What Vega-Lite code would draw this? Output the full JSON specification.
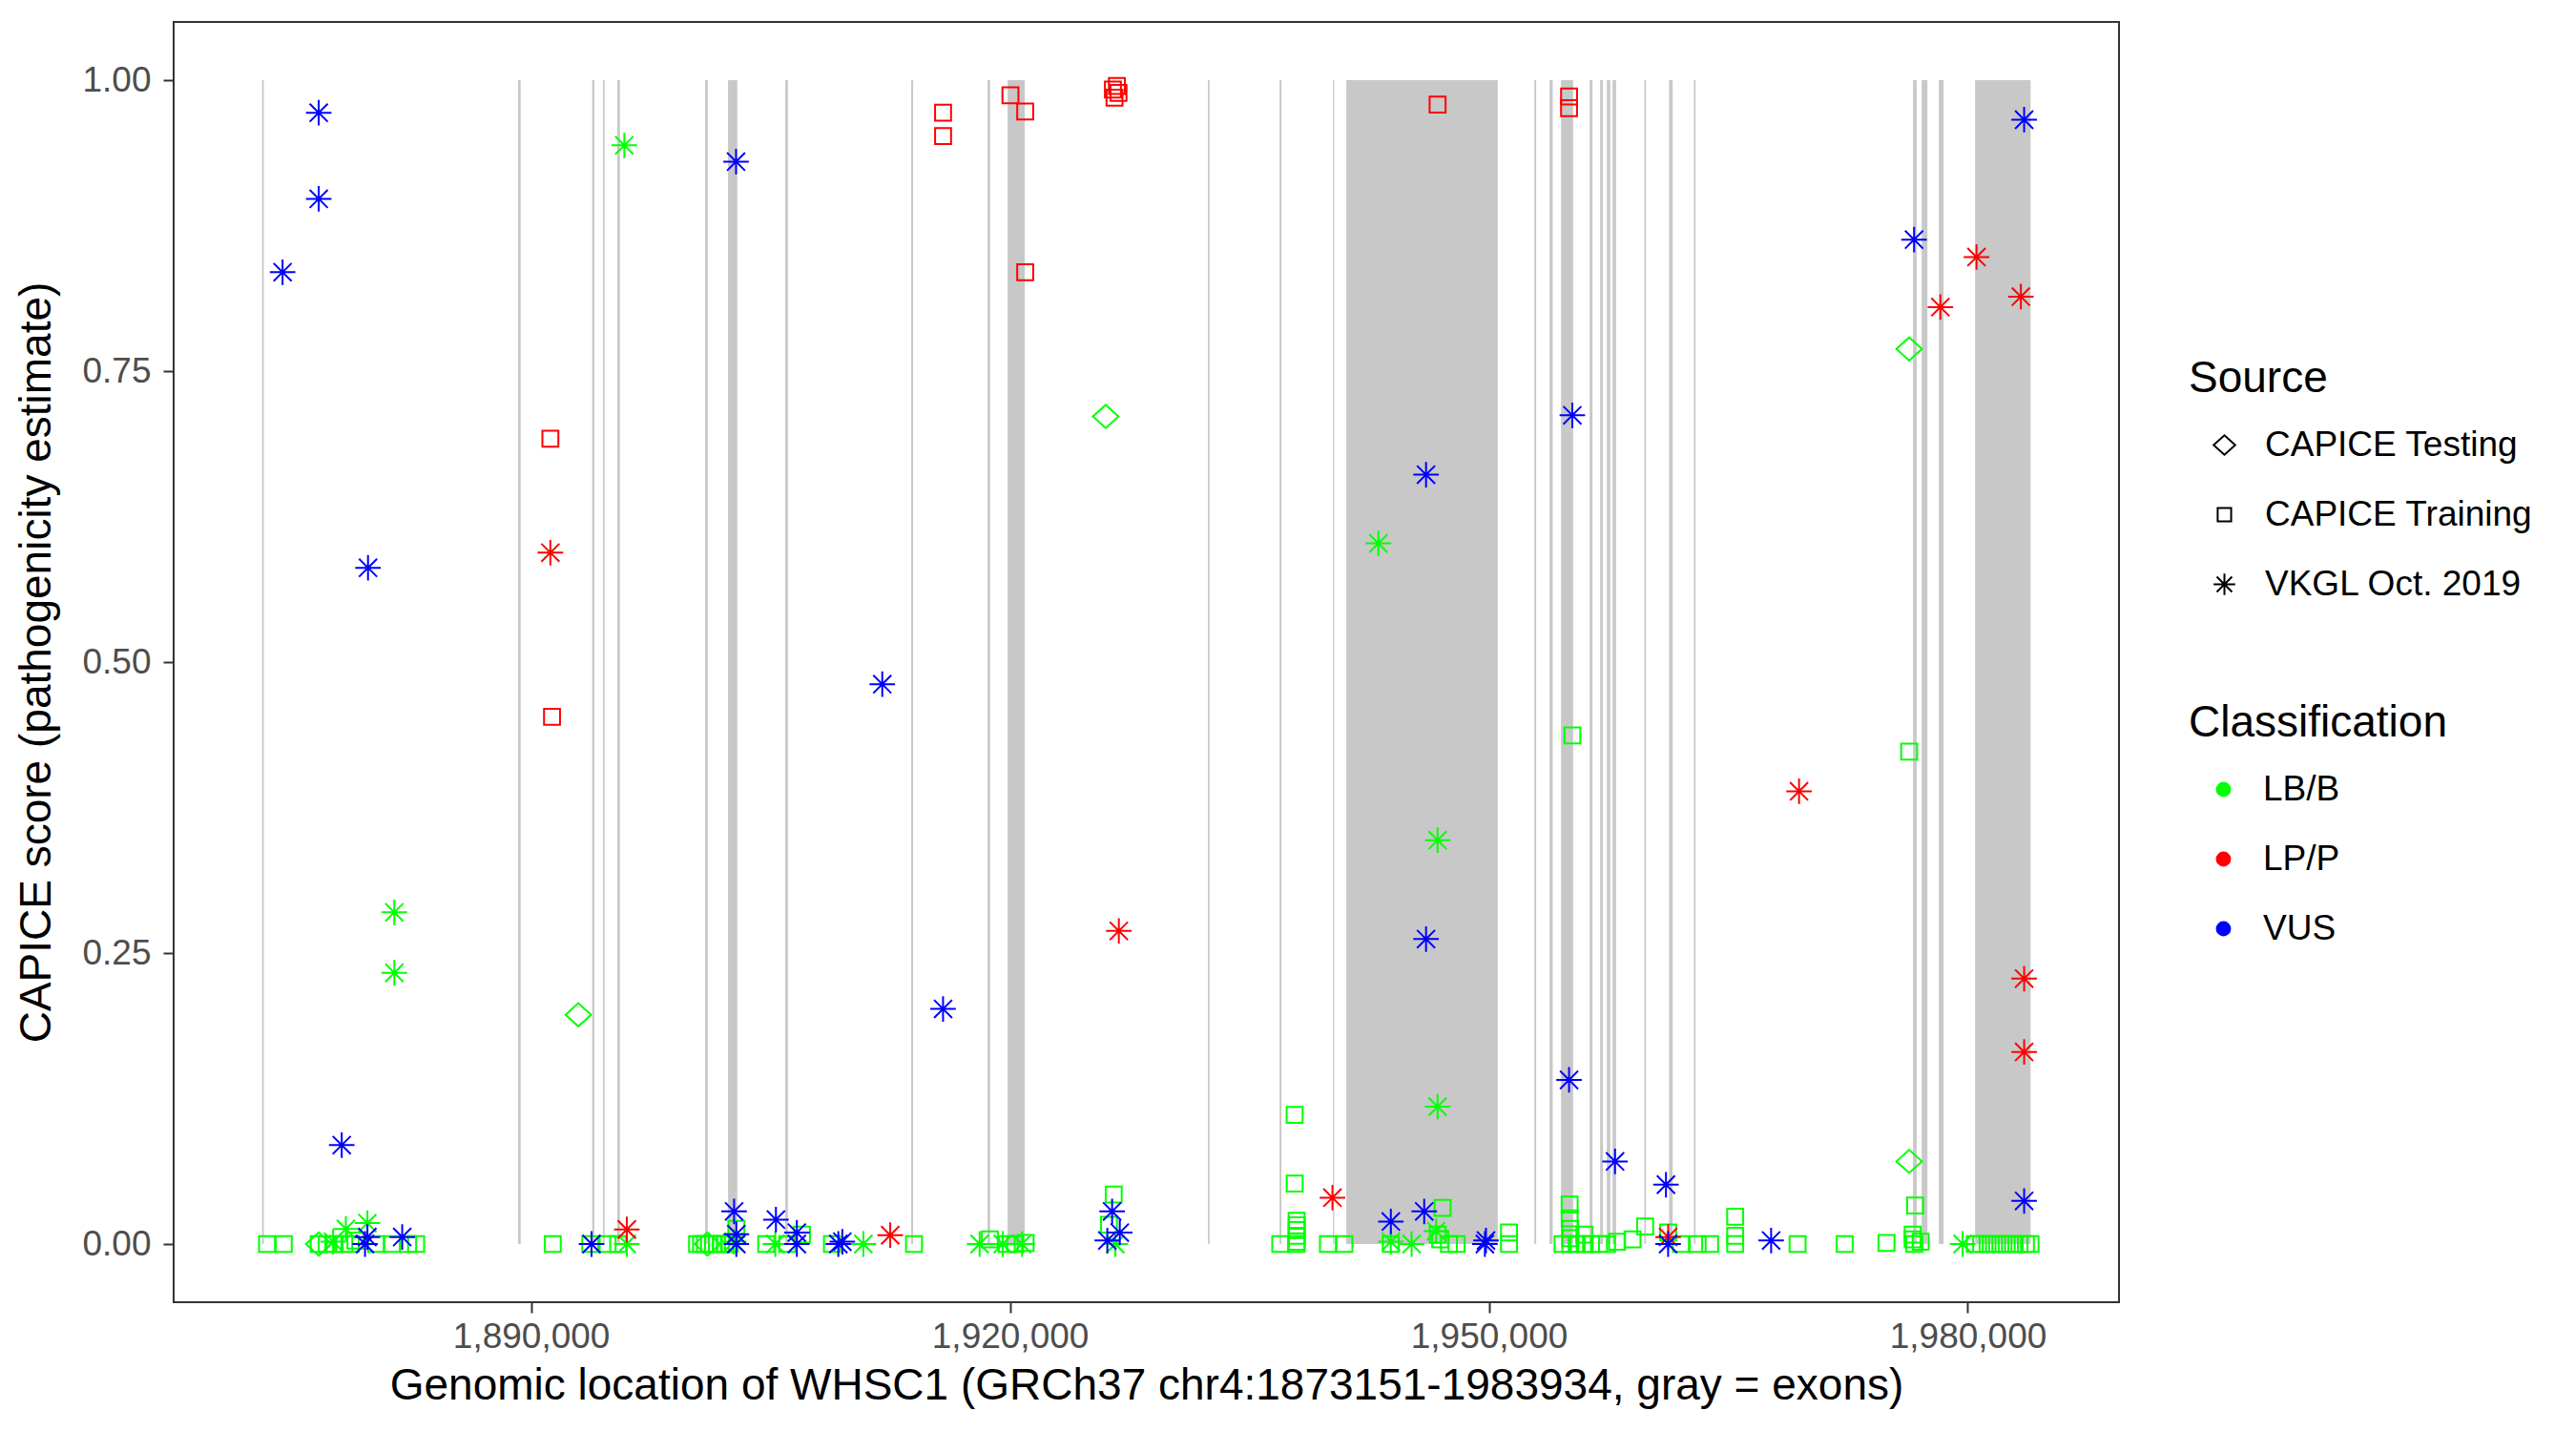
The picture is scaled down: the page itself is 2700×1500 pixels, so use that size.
{
"$schema": "https://vega.github.io/schema/vega-lite/v6.json",
"autosize": {"type": "none"},
"padding": {"left": 182, "top": 23, "right": 479, "bottom": 135},
"width": 2039,
"height": 1342,
"background": "white",
"config": {
  "font": "Liberation Sans",
  "view": {"stroke": "#333333", "strokeWidth": 2},
  "axis": {"grid": false, "domain": false, "tickColor": "#333333", "tickWidth": 2, "tickSize": 11, "labelColor": "#4D4D4D", "labelFontSize": 37, "titleFontSize": 46, "titleFontWeight": "normal", "titleColor": "black", "labelFont": "Liberation Sans", "titleFont": "Liberation Sans"},
  "legend": {"titleFontSize": 46, "titleFontWeight": "normal", "titleColor": "black", "labelFontSize": 37, "labelColor": "black", "rowPadding": 35, "titlePadding": 27, "labelFont": "Liberation Sans", "titleFont": "Liberation Sans", "labelLimit": 1000, "titleLimit": 1000}
},
"datasets": {
"exons": [
{"start": 1873151, "end": 1873260},
{"start": 1889189, "end": 1889350},
{"start": 1893833, "end": 1893970},
{"start": 1894509, "end": 1894611},
{"start": 1895406, "end": 1895567},
{"start": 1900905, "end": 1901066},
{"start": 1902340, "end": 1902920},
{"start": 1905926, "end": 1906087},
{"start": 1913815, "end": 1913935},
{"start": 1918597, "end": 1918758},
{"start": 1919852, "end": 1920928},
{"start": 1932404, "end": 1932506},
{"start": 1936887, "end": 1937006},
{"start": 1940234, "end": 1940311},
{"start": 1941071, "end": 1950557},
{"start": 1952847, "end": 1952966},
{"start": 1953803, "end": 1954000},
{"start": 1954520, "end": 1955279},
{"start": 1956313, "end": 1956492},
{"start": 1956970, "end": 1957150},
{"start": 1957389, "end": 1957610},
{"start": 1957747, "end": 1957968},
{"start": 1959737, "end": 1959839},
{"start": 1961291, "end": 1961512},
{"start": 1962845, "end": 1962947},
{"start": 1976575, "end": 1976796},
{"start": 1977113, "end": 1977472},
{"start": 1978188, "end": 1978487},
{"start": 1980459, "end": 1983934}
],
"pts": [
{"p": 1873460, "s": 0, "src": "CAPICE Training", "cls": "LB/B"},
{"p": 1874510, "s": 0, "src": "CAPICE Training", "cls": "LB/B"},
{"p": 1876700, "s": 0, "src": "CAPICE Training", "cls": "LB/B"},
{"p": 1877200, "s": 0, "src": "CAPICE Training", "cls": "LB/B"},
{"p": 1877620, "s": 0, "src": "CAPICE Training", "cls": "LB/B"},
{"p": 1878300, "s": 0, "src": "CAPICE Training", "cls": "LB/B"},
{"p": 1878700, "s": 0, "src": "CAPICE Training", "cls": "LB/B"},
{"p": 1879000, "s": 0.003, "src": "CAPICE Training", "cls": "LB/B"},
{"p": 1880300, "s": 0, "src": "CAPICE Training", "cls": "LB/B"},
{"p": 1881280, "s": 0, "src": "CAPICE Training", "cls": "LB/B"},
{"p": 1882300, "s": 0, "src": "CAPICE Training", "cls": "LB/B"},
{"p": 1882800, "s": 0, "src": "CAPICE Training", "cls": "LB/B"},
{"p": 1891360, "s": 0, "src": "CAPICE Training", "cls": "LB/B"},
{"p": 1893710, "s": 0, "src": "CAPICE Training", "cls": "LB/B"},
{"p": 1894800, "s": 0, "src": "CAPICE Training", "cls": "LB/B"},
{"p": 1895460, "s": 0, "src": "CAPICE Training", "cls": "LB/B"},
{"p": 1900400, "s": 0, "src": "CAPICE Training", "cls": "LB/B"},
{"p": 1900650, "s": 0, "src": "CAPICE Training", "cls": "LB/B"},
{"p": 1900900, "s": 0, "src": "CAPICE Training", "cls": "LB/B"},
{"p": 1901150, "s": 0, "src": "CAPICE Training", "cls": "LB/B"},
{"p": 1901400, "s": 0, "src": "CAPICE Training", "cls": "LB/B"},
{"p": 1901650, "s": 0, "src": "CAPICE Training", "cls": "LB/B"},
{"p": 1901900, "s": 0, "src": "CAPICE Training", "cls": "LB/B"},
{"p": 1902150, "s": 0, "src": "CAPICE Training", "cls": "LB/B"},
{"p": 1902450, "s": 0, "src": "CAPICE Training", "cls": "LB/B"},
{"p": 1902860, "s": 0.013, "src": "CAPICE Training", "cls": "LB/B"},
{"p": 1904730, "s": 0, "src": "CAPICE Training", "cls": "LB/B"},
{"p": 1906050, "s": 0, "src": "CAPICE Training", "cls": "LB/B"},
{"p": 1906970, "s": 0.008, "src": "CAPICE Training", "cls": "LB/B"},
{"p": 1908850, "s": 0, "src": "CAPICE Training", "cls": "LB/B"},
{"p": 1913990, "s": 0, "src": "CAPICE Training", "cls": "LB/B"},
{"p": 1918740, "s": 0.004, "src": "CAPICE Training", "cls": "LB/B"},
{"p": 1919800, "s": 0, "src": "CAPICE Training", "cls": "LB/B"},
{"p": 1920320, "s": 0, "src": "CAPICE Training", "cls": "LB/B"},
{"p": 1920980, "s": 0.001, "src": "CAPICE Training", "cls": "LB/B"},
{"p": 1926500, "s": 0.0425, "src": "CAPICE Training", "cls": "LB/B"},
{"p": 1926200, "s": 0.0166, "src": "CAPICE Training", "cls": "LB/B"},
{"p": 1936930, "s": 0, "src": "CAPICE Training", "cls": "LB/B"},
{"p": 1937835, "s": 0.111, "src": "CAPICE Training", "cls": "LB/B"},
{"p": 1937835, "s": 0.052, "src": "CAPICE Training", "cls": "LB/B"},
{"p": 1937960, "s": 0.02, "src": "CAPICE Training", "cls": "LB/B"},
{"p": 1937960, "s": 0.016, "src": "CAPICE Training", "cls": "LB/B"},
{"p": 1937960, "s": 0.012, "src": "CAPICE Training", "cls": "LB/B"},
{"p": 1937960, "s": 0.007, "src": "CAPICE Training", "cls": "LB/B"},
{"p": 1937960, "s": 0.002, "src": "CAPICE Training", "cls": "LB/B"},
{"p": 1937960, "s": 0, "src": "CAPICE Training", "cls": "LB/B"},
{"p": 1939920, "s": 0, "src": "CAPICE Training", "cls": "LB/B"},
{"p": 1940950, "s": 0, "src": "CAPICE Training", "cls": "LB/B"},
{"p": 1943860, "s": 0, "src": "CAPICE Training", "cls": "LB/B"},
{"p": 1946800, "s": 0.008, "src": "CAPICE Training", "cls": "LB/B"},
{"p": 1946950, "s": 0.004, "src": "CAPICE Training", "cls": "LB/B"},
{"p": 1947100, "s": 0.031, "src": "CAPICE Training", "cls": "LB/B"},
{"p": 1947500, "s": 0, "src": "CAPICE Training", "cls": "LB/B"},
{"p": 1947980, "s": 0, "src": "CAPICE Training", "cls": "LB/B"},
{"p": 1951260, "s": 0.01, "src": "CAPICE Training", "cls": "LB/B"},
{"p": 1951260, "s": 0, "src": "CAPICE Training", "cls": "LB/B"},
{"p": 1955060, "s": 0.034, "src": "CAPICE Training", "cls": "LB/B"},
{"p": 1955060, "s": 0.022, "src": "CAPICE Training", "cls": "LB/B"},
{"p": 1955100, "s": 0.013, "src": "CAPICE Training", "cls": "LB/B"},
{"p": 1955100, "s": 0.005, "src": "CAPICE Training", "cls": "LB/B"},
{"p": 1955100, "s": 0, "src": "CAPICE Training", "cls": "LB/B"},
{"p": 1955229, "s": 0.437, "src": "CAPICE Training", "cls": "LB/B"},
{"p": 1954620, "s": 0, "src": "CAPICE Training", "cls": "LB/B"},
{"p": 1955500, "s": 0, "src": "CAPICE Training", "cls": "LB/B"},
{"p": 1955980, "s": 0.008, "src": "CAPICE Training", "cls": "LB/B"},
{"p": 1956000, "s": 0, "src": "CAPICE Training", "cls": "LB/B"},
{"p": 1956400, "s": 0, "src": "CAPICE Training", "cls": "LB/B"},
{"p": 1956900, "s": 0, "src": "CAPICE Training", "cls": "LB/B"},
{"p": 1957400, "s": 0, "src": "CAPICE Training", "cls": "LB/B"},
{"p": 1958030, "s": 0.002, "src": "CAPICE Training", "cls": "LB/B"},
{"p": 1959000, "s": 0.004, "src": "CAPICE Training", "cls": "LB/B"},
{"p": 1959790, "s": 0.015, "src": "CAPICE Training", "cls": "LB/B"},
{"p": 1961230, "s": 0.01, "src": "CAPICE Training", "cls": "LB/B"},
{"p": 1962030, "s": 0, "src": "CAPICE Training", "cls": "LB/B"},
{"p": 1963080, "s": 0, "src": "CAPICE Training", "cls": "LB/B"},
{"p": 1963860, "s": 0, "src": "CAPICE Training", "cls": "LB/B"},
{"p": 1965430, "s": 0.0234, "src": "CAPICE Training", "cls": "LB/B"},
{"p": 1965430, "s": 0.007, "src": "CAPICE Training", "cls": "LB/B"},
{"p": 1965430, "s": 0, "src": "CAPICE Training", "cls": "LB/B"},
{"p": 1969340, "s": 0, "src": "CAPICE Training", "cls": "LB/B"},
{"p": 1972290, "s": 0, "src": "CAPICE Training", "cls": "LB/B"},
{"p": 1974910, "s": 0.001, "src": "CAPICE Training", "cls": "LB/B"},
{"p": 1976329, "s": 0.423, "src": "CAPICE Training", "cls": "LB/B"},
{"p": 1976700, "s": 0.033, "src": "CAPICE Training", "cls": "LB/B"},
{"p": 1976550, "s": 0.008, "src": "CAPICE Training", "cls": "LB/B"},
{"p": 1976550, "s": 0.004, "src": "CAPICE Training", "cls": "LB/B"},
{"p": 1976650, "s": 0, "src": "CAPICE Training", "cls": "LB/B"},
{"p": 1977050, "s": 0.002, "src": "CAPICE Training", "cls": "LB/B"},
{"p": 1980440, "s": 0, "src": "CAPICE Training", "cls": "LB/B"},
{"p": 1980840, "s": 0, "src": "CAPICE Training", "cls": "LB/B"},
{"p": 1981240, "s": 0, "src": "CAPICE Training", "cls": "LB/B"},
{"p": 1981640, "s": 0, "src": "CAPICE Training", "cls": "LB/B"},
{"p": 1982040, "s": 0, "src": "CAPICE Training", "cls": "LB/B"},
{"p": 1982440, "s": 0, "src": "CAPICE Training", "cls": "LB/B"},
{"p": 1982840, "s": 0, "src": "CAPICE Training", "cls": "LB/B"},
{"p": 1983240, "s": 0, "src": "CAPICE Training", "cls": "LB/B"},
{"p": 1983640, "s": 0, "src": "CAPICE Training", "cls": "LB/B"},
{"p": 1983934, "s": 0, "src": "CAPICE Training", "cls": "LB/B"},
{"p": 1891212, "s": 0.692, "src": "CAPICE Training", "cls": "LP/P"},
{"p": 1891315, "s": 0.453, "src": "CAPICE Training", "cls": "LP/P"},
{"p": 1915810, "s": 0.972, "src": "CAPICE Training", "cls": "LP/P"},
{"p": 1915810, "s": 0.952, "src": "CAPICE Training", "cls": "LP/P"},
{"p": 1920030, "s": 0.987, "src": "CAPICE Training", "cls": "LP/P"},
{"p": 1920956, "s": 0.973, "src": "CAPICE Training", "cls": "LP/P"},
{"p": 1920956, "s": 0.835, "src": "CAPICE Training", "cls": "LP/P"},
{"p": 1926450, "s": 0.992, "src": "CAPICE Training", "cls": "LP/P"},
{"p": 1926700, "s": 0.995, "src": "CAPICE Training", "cls": "LP/P"},
{"p": 1926550, "s": 0.985, "src": "CAPICE Training", "cls": "LP/P"},
{"p": 1926800, "s": 0.989, "src": "CAPICE Training", "cls": "LP/P"},
{"p": 1946789, "s": 0.979, "src": "CAPICE Training", "cls": "LP/P"},
{"p": 1955023, "s": 0.986, "src": "CAPICE Training", "cls": "LP/P"},
{"p": 1955023, "s": 0.976, "src": "CAPICE Training", "cls": "LP/P"},
{"p": 1892962, "s": 0.197, "src": "CAPICE Testing", "cls": "LB/B"},
{"p": 1926000, "s": 0.711, "src": "CAPICE Testing", "cls": "LB/B"},
{"p": 1976329, "s": 0.769, "src": "CAPICE Testing", "cls": "LB/B"},
{"p": 1976329, "s": 0.071, "src": "CAPICE Testing", "cls": "LB/B"},
{"p": 1876700, "s": 0, "src": "CAPICE Testing", "cls": "LB/B"},
{"p": 1901050, "s": 0, "src": "CAPICE Testing", "cls": "LB/B"},
{"p": 1881435, "s": 0.285, "src": "VKGL Oct. 2019", "cls": "LB/B"},
{"p": 1881435, "s": 0.233, "src": "VKGL Oct. 2019", "cls": "LB/B"},
{"p": 1895844, "s": 0.944, "src": "VKGL Oct. 2019", "cls": "LB/B"},
{"p": 1943081, "s": 0.602, "src": "VKGL Oct. 2019", "cls": "LB/B"},
{"p": 1946789, "s": 0.347, "src": "VKGL Oct. 2019", "cls": "LB/B"},
{"p": 1946789, "s": 0.118, "src": "VKGL Oct. 2019", "cls": "LB/B"},
{"p": 1878400, "s": 0.013, "src": "VKGL Oct. 2019", "cls": "LB/B"},
{"p": 1879750, "s": 0.018, "src": "VKGL Oct. 2019", "cls": "LB/B"},
{"p": 1877600, "s": 0.002, "src": "VKGL Oct. 2019", "cls": "LB/B"},
{"p": 1896000, "s": 0, "src": "VKGL Oct. 2019", "cls": "LB/B"},
{"p": 1902700, "s": 0.002, "src": "VKGL Oct. 2019", "cls": "LB/B"},
{"p": 1905300, "s": 0, "src": "VKGL Oct. 2019", "cls": "LB/B"},
{"p": 1910820, "s": 0, "src": "VKGL Oct. 2019", "cls": "LB/B"},
{"p": 1918100, "s": 0, "src": "VKGL Oct. 2019", "cls": "LB/B"},
{"p": 1919550, "s": 0, "src": "VKGL Oct. 2019", "cls": "LB/B"},
{"p": 1920760, "s": 0, "src": "VKGL Oct. 2019", "cls": "LB/B"},
{"p": 1926600, "s": 0, "src": "VKGL Oct. 2019", "cls": "LB/B"},
{"p": 1943860, "s": 0.002, "src": "VKGL Oct. 2019", "cls": "LB/B"},
{"p": 1945160, "s": 0, "src": "VKGL Oct. 2019", "cls": "LB/B"},
{"p": 1946700, "s": 0.011, "src": "VKGL Oct. 2019", "cls": "LB/B"},
{"p": 1979680, "s": 0, "src": "VKGL Oct. 2019", "cls": "LB/B"},
{"p": 1891212, "s": 0.594, "src": "VKGL Oct. 2019", "cls": "LP/P"},
{"p": 1896000, "s": 0.0125, "src": "VKGL Oct. 2019", "cls": "LP/P"},
{"p": 1912500, "s": 0.0076, "src": "VKGL Oct. 2019", "cls": "LP/P"},
{"p": 1926821, "s": 0.269, "src": "VKGL Oct. 2019", "cls": "LP/P"},
{"p": 1940202, "s": 0.0398, "src": "VKGL Oct. 2019", "cls": "LP/P"},
{"p": 1961230, "s": 0.006, "src": "VKGL Oct. 2019", "cls": "LP/P"},
{"p": 1969431, "s": 0.389, "src": "VKGL Oct. 2019", "cls": "LP/P"},
{"p": 1978284, "s": 0.805, "src": "VKGL Oct. 2019", "cls": "LP/P"},
{"p": 1980548, "s": 0.848, "src": "VKGL Oct. 2019", "cls": "LP/P"},
{"p": 1983326, "s": 0.814, "src": "VKGL Oct. 2019", "cls": "LP/P"},
{"p": 1983531, "s": 0.228, "src": "VKGL Oct. 2019", "cls": "LP/P"},
{"p": 1983531, "s": 0.165, "src": "VKGL Oct. 2019", "cls": "LP/P"},
{"p": 1874436, "s": 0.835, "src": "VKGL Oct. 2019", "cls": "VUS"},
{"p": 1876700, "s": 0.972, "src": "VKGL Oct. 2019", "cls": "VUS"},
{"p": 1876700, "s": 0.898, "src": "VKGL Oct. 2019", "cls": "VUS"},
{"p": 1879788, "s": 0.581, "src": "VKGL Oct. 2019", "cls": "VUS"},
{"p": 1878141, "s": 0.085, "src": "VKGL Oct. 2019", "cls": "VUS"},
{"p": 1879750, "s": 0.006, "src": "VKGL Oct. 2019", "cls": "VUS"},
{"p": 1879600, "s": 0, "src": "VKGL Oct. 2019", "cls": "VUS"},
{"p": 1881930, "s": 0.006, "src": "VKGL Oct. 2019", "cls": "VUS"},
{"p": 1893790, "s": 0, "src": "VKGL Oct. 2019", "cls": "VUS"},
{"p": 1902842, "s": 0.93, "src": "VKGL Oct. 2019", "cls": "VUS"},
{"p": 1902720, "s": 0.028, "src": "VKGL Oct. 2019", "cls": "VUS"},
{"p": 1902860, "s": 0.0085, "src": "VKGL Oct. 2019", "cls": "VUS"},
{"p": 1902860, "s": 0, "src": "VKGL Oct. 2019", "cls": "VUS"},
{"p": 1905340, "s": 0.021, "src": "VKGL Oct. 2019", "cls": "VUS"},
{"p": 1906650, "s": 0.0098, "src": "VKGL Oct. 2019", "cls": "VUS"},
{"p": 1906650, "s": 0, "src": "VKGL Oct. 2019", "cls": "VUS"},
{"p": 1909250, "s": 0, "src": "VKGL Oct. 2019", "cls": "VUS"},
{"p": 1909500, "s": 0.002, "src": "VKGL Oct. 2019", "cls": "VUS"},
{"p": 1912002, "s": 0.481, "src": "VKGL Oct. 2019", "cls": "VUS"},
{"p": 1915810, "s": 0.202, "src": "VKGL Oct. 2019", "cls": "VUS"},
{"p": 1926400, "s": 0.028, "src": "VKGL Oct. 2019", "cls": "VUS"},
{"p": 1926880, "s": 0.0098, "src": "VKGL Oct. 2019", "cls": "VUS"},
{"p": 1926100, "s": 0.003, "src": "VKGL Oct. 2019", "cls": "VUS"},
{"p": 1943860, "s": 0.0193, "src": "VKGL Oct. 2019", "cls": "VUS"},
{"p": 1945950, "s": 0.028, "src": "VKGL Oct. 2019", "cls": "VUS"},
{"p": 1946065, "s": 0.661, "src": "VKGL Oct. 2019", "cls": "VUS"},
{"p": 1946065, "s": 0.262, "src": "VKGL Oct. 2019", "cls": "VUS"},
{"p": 1955229, "s": 0.712, "src": "VKGL Oct. 2019", "cls": "VUS"},
{"p": 1955023, "s": 0.141, "src": "VKGL Oct. 2019", "cls": "VUS"},
{"p": 1949820, "s": 0.003, "src": "VKGL Oct. 2019", "cls": "VUS"},
{"p": 1949750, "s": 0, "src": "VKGL Oct. 2019", "cls": "VUS"},
{"p": 1957904, "s": 0.071, "src": "VKGL Oct. 2019", "cls": "VUS"},
{"p": 1961094, "s": 0.051, "src": "VKGL Oct. 2019", "cls": "VUS"},
{"p": 1961230, "s": 0, "src": "VKGL Oct. 2019", "cls": "VUS"},
{"p": 1967681, "s": 0.003, "src": "VKGL Oct. 2019", "cls": "VUS"},
{"p": 1976636, "s": 0.863, "src": "VKGL Oct. 2019", "cls": "VUS"},
{"p": 1983531, "s": 0.966, "src": "VKGL Oct. 2019", "cls": "VUS"},
{"p": 1983531, "s": 0.037, "src": "VKGL Oct. 2019", "cls": "VUS"}
]
},
"layer": [
{
  "data": {"name": "exons"},
  "mark": {"type": "rect", "color": "#C8C8C8"},
  "encoding": {
    "x": {"field": "start", "type": "quantitative", "scale": {"domain": [1867612, 1989473], "nice": false, "zero": false},
          "axis": {"values": [1890000, 1920000, 1950000, 1980000], "format": ",d", "labelPadding": 7, "labelFlush": false, "title": "Genomic location of WHSC1 (GRCh37 chr4:1873151-1983934, gray = exons)", "titleY": 87, "titleBaseline": "middle"}},
    "x2": {"field": "end"},
    "y": {"datum": 0, "type": "quantitative", "scale": {"domain": [-0.05, 1.05], "nice": false, "zero": false},
          "axis": {"values": [0, 0.25, 0.5, 0.75, 1], "format": ".2f", "labelPadding": 13, "title": "CAPICE score (pathogenicity estimate)", "titleX": -144, "titleBaseline": "middle"}},
    "y2": {"datum": 1}
  }
},
{
  "data": {"name": "pts"},
  "mark": {"type": "point", "filled": false, "strokeWidth": 2, "size": 280, "opacity": 1},
  "encoding": {
    "x": {"field": "p", "type": "quantitative"},
    "y": {"field": "s", "type": "quantitative"},
    "shape": {"field": "src", "type": "nominal",
      "scale": {"domain": ["CAPICE Testing", "CAPICE Training", "VKGL Oct. 2019"],
                "range": ["M-1.6,0L0,-1.45L1.6,0L0,1.45Z", "square", "M-1.6,0L1.6,0M0,-1.6L0,1.6M-1.13,-1.13L1.13,1.13M-1.13,1.13L1.13,-1.13"]},
      "legend": {"title": "Source", "orient": "none", "legendX": 2112, "legendY": 352, "symbolSize": 200, "symbolOffset": 19, "labelOffset": 24, "symbolStrokeColor": "black", "symbolStrokeWidth": 2,
                 "encoding": {"symbols": {"stroke": {"value": "black"}, "strokeWidth": {"value": 2}}}}},
    "color": {"field": "cls", "type": "nominal",
      "scale": {"domain": ["LB/B", "LP/P", "VUS"], "range": ["#00FF00", "#FF0000", "#0000FF"]},
      "legend": {"title": "Classification", "orient": "none", "legendX": 2112, "legendY": 713, "symbolType": "circle", "symbolSize": 250, "symbolOffset": 18, "labelOffset": 23,
                 "encoding": {"symbols": {"fill": {"value": {"expr": "scale('color', datum.value)"}}, "fillOpacity": {"value": 1}, "strokeWidth": {"value": 0}}}}}
  }
}
]
}
